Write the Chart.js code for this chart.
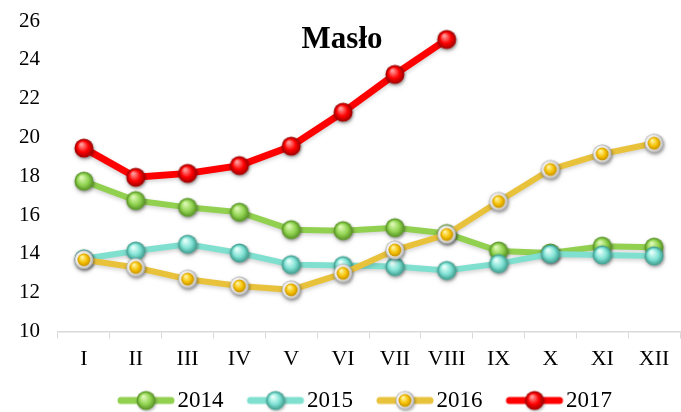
<!DOCTYPE html>
<html>
<head>
<meta charset="utf-8">
<script src="https://cdn.jsdelivr.net/npm/chart.js@4/dist/chart.umd.min.js"></script>
<style>
  html, body { margin: 0; padding: 0; background: #fff; overflow: hidden; }
  #maslo-chart { display: block; }
</style>
</head>
<body>
<canvas id="maslo-chart" width="681" height="412"></canvas>
<script>
const months = ['I', 'II', 'III', 'IV', 'V', 'VI', 'VII', 'VIII', 'IX', 'X', 'XI', 'XII'];
const years = ['2014', '2015', '2016', '2017'];

const values2014 = [17.75, 16.75, 16.4, 16.15, 15.25, 15.2, 15.35, 15.05, 14.15, 14.05, 14.4, 14.35];
const values2015 = [13.75, 14.15, 14.5, 14.05, 13.45, 13.4, 13.35, 13.15, 13.5, 14.0, 13.95, 13.9];
const values2016 = [13.7, 13.3, 12.7, 12.35, 12.15, 13.0, 14.2, 15.0, 16.7, 18.35, 19.15, 19.7];
const values2017 = [19.45, 17.95, 18.15, 18.55, 19.55, 21.3, 23.25, 25.05];

const yTicks = [10, 12, 14, 16, 18, 20, 22, 24, 26];

// shiny ball markers, drawn once on small canvases and used as point styles
function makeBall(base, light, dark, ring) {
    const r = 9.5, size = 28;
    const c = document.createElement('canvas');
    c.width = size; c.height = size;
    const ctx = c.getContext('2d');
    const cx = size / 2, cy = size / 2;
    ctx.save();
    ctx.shadowColor = 'rgba(0,0,0,0.3)';
    ctx.shadowBlur = 3;
    ctx.shadowOffsetX = 1;
    ctx.shadowOffsetY = 1.5;
    ctx.beginPath();
    ctx.arc(cx, cy, r, 0, Math.PI * 2);
    if (ring) {
        const rg = ctx.createRadialGradient(cx - 3, cy - 3, 1, cx, cy, r);
        rg.addColorStop(0, '#ffffff');
        rg.addColorStop(0.7, '#eeeeee');
        rg.addColorStop(1, '#a8a8a8');
        ctx.fillStyle = rg;
    } else {
        ctx.fillStyle = dark;
    }
    ctx.fill();
    ctx.restore();
    const ir = ring ? r - 3 : r - 0.8;
    const g = ctx.createRadialGradient(cx - ir * 0.3, cy - ir * 0.45, ir * 0.1, cx, cy, ir);
    g.addColorStop(0, light);
    g.addColorStop(0.6, base);
    g.addColorStop(1, dark);
    ctx.beginPath();
    ctx.arc(cx, cy, ir, 0, Math.PI * 2);
    ctx.fillStyle = g;
    ctx.fill();
    return c;
}

// legend icon: line with a ball, drawn off-centre so it sits just left of the text
function makeLegendIcon(lineColor, ball, lineWidth) {
    const w = 90, h = 28;
    const c = document.createElement('canvas');
    c.width = w; c.height = h;
    const ctx = c.getContext('2d');
    ctx.strokeStyle = lineColor;
    ctx.lineWidth = lineWidth;
    ctx.lineCap = 'round';
    ctx.beginPath();
    ctx.moveTo(31, h / 2);
    ctx.lineTo(81, h / 2);
    ctx.stroke();
    ctx.drawImage(ball, 56 - ball.width / 2, (h - ball.height) / 2);
    return c;
}

const lineColors = ['#92d050', '#80e0d0', '#e9c23c', '#ff0000'];
const balls = [
    makeBall('#92d452', '#dcf8b4', '#5e9a2a', false),
    makeBall('#80e2d4', '#e6fffb', '#45a596', false),
    makeBall('#f5c000', '#fff3a0', '#c48e00', true),
    makeBall('#ff0000', '#ff9c9c', '#a80000', false)
];
const lineWidths = [6, 6, 6, 7];
const series = [values2014, values2015, values2016, values2017];

const datasets = years.map((y, i) => ({
    label: y,
    data: series[i],
    borderColor: lineColors[i],
    backgroundColor: lineColors[i],
    borderWidth: lineWidths[i],
    pointStyle: balls[i],
    pointRadius: 10,
    pointHoverRadius: 10,
    tension: 0,
    clip: false,
    order: 4 - i
}));

const lineShadow = {
    id: 'lineShadow',
    beforeDatasetDraw(chart) {
        const ctx = chart.ctx;
        ctx.save();
        ctx.shadowColor = 'rgba(0,0,0,0.18)';
        ctx.shadowBlur = 4;
        ctx.shadowOffsetY = 2;
    },
    afterDatasetDraw(chart) {
        chart.ctx.restore();
    }
};

// legend in the original is centred under the plot, not the whole canvas
const legendShift = {
    id: 'legendShift',
    afterLayout(chart) {
        chart.legend.left += 18;
        chart.legend.right += 18;
    }
};

const titleText = {
    id: 'titleText',
    afterDraw(chart) {
        const ctx = chart.ctx;
        const x = chart.scales.x.getPixelForValue(5) - 1;
        const y = chart.scales.y.getPixelForValue(25);
        ctx.save();
        ctx.font = 'bold 31px "Liberation Serif", "Times New Roman", serif';
        ctx.fillStyle = '#000';
        ctx.textAlign = 'center';
        ctx.textBaseline = 'middle';
        ctx.fillText('Masło', x, y);
        ctx.restore();
    }
};

const serif = '"Liberation Serif", "Times New Roman", serif';

new Chart('maslo-chart', {
    type: 'line',
    data: { labels: months, datasets: datasets },
    options: {
        responsive: false,
        animation: false,
        layout: { autoPadding: false, padding: { left: 0, right: 1, top: 21, bottom: -10 } },
        plugins: {
            tooltip: { enabled: false },
            legend: {
                position: 'bottom',
                labels: {
                    usePointStyle: true,
                    pointStyleWidth: 62,
                    padding: 10,
                    color: '#000',
                    font: { family: serif, size: 23 },
                    generateLabels(chart) {
                        return chart.data.datasets.map((ds, i) => ({
                            text: ds.label,
                            pointStyle: makeLegendIcon(lineColors[i], balls[i], 7),
                            fillStyle: 'transparent',
                            strokeStyle: 'transparent',
                            lineWidth: 0,
                            fontColor: '#000',
                            datasetIndex: i
                        }));
                    }
                }
            }
        },
        scales: {
            x: {
                offset: true,
                afterFit(axis) {
                    axis.paddingLeft = 0;
                    axis.paddingRight = 0;
                },
                grid: {
                    offset: true,
                    drawOnChartArea: false,
                    tickLength: 7,
                    color: '#d9d9d9'
                },
                border: { color: '#d9d9d9', width: 1.5 },
                ticks: {
                    color: '#000',
                    font: { family: serif, size: 22 },
                    padding: 7,
                    maxRotation: 0,
                    autoSkip: false
                }
            },
            y: {
                min: 10,
                max: 26,
                afterBuildTicks(axis) {
                    axis.ticks = yTicks.map(v => ({ value: v }));
                },
                afterFit(axis) {
                    axis.width = 58;
                    axis.paddingTop = 0;
                    axis.paddingBottom = 0;
                },
                grid: { display: false, drawTicks: false },
                border: { display: false },
                ticks: {
                    color: '#000',
                    font: { family: serif, size: 21 },
                    padding: 18
                }
            }
        }
    },
    plugins: [lineShadow, legendShift, titleText]
});
</script>
</body>
</html>
